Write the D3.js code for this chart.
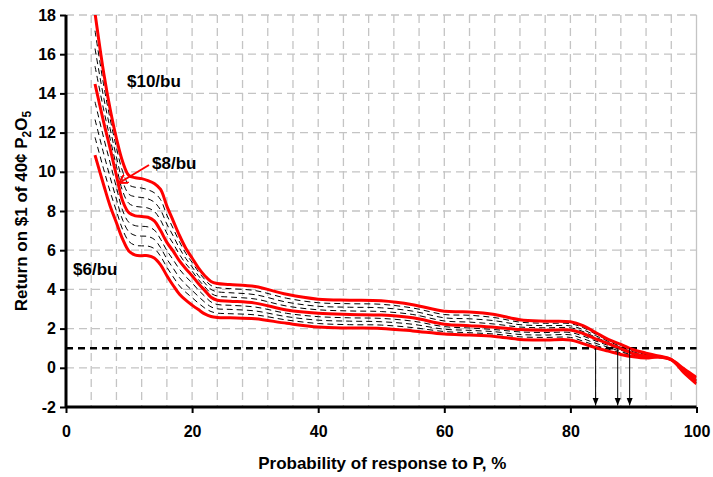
<!DOCTYPE html>
<html>
<head>
<meta charset="utf-8">
<script src="https://cdn.jsdelivr.net/npm/d3@7/dist/d3.min.js"></script>
<style>
  html, body { margin: 0; padding: 0; background: #fff; }
  svg { display: block; }
  text { font-family: "Liberation Sans", Arial, sans-serif; font-weight: bold; fill: #000; }
</style>
</head>
<body>
<svg id="chart" width="713" height="477"></svg>
<script>
// Probability of response to P (%) at which each curve is sampled
const probability = [4.6, 6, 7, 8, 9, 10, 11, 12, 13, 14, 15, 16, 17, 18, 19, 20, 21, 22, 23, 24, 26, 30, 35, 40, 45, 50, 55, 60, 64, 68, 72, 76, 80, 82, 84, 86, 88, 90, 92, 94, 96, 98, 100];

// Return on $1 of P2O5 at the labelled grain prices (red curves)
const return6 = [10.85, 9.3, 8.25, 7.4, 6.55, 5.95, 5.75, 5.72, 5.72, 5.6, 5.25, 4.7, 4.2, 3.75, 3.45, 3.2, 2.97, 2.75, 2.62, 2.57, 2.55, 2.5, 2.27, 2.08, 2.03, 2.01, 1.88, 1.72, 1.67, 1.6, 1.45, 1.42, 1.42, 1.23, 1.02, 0.85, 0.68, 0.56, 0.5, 0.55, 0.42, -0.05, -0.5];
const return8 = [14.48, 12.5, 11.19, 9.8, 8.5, 7.9, 7.75, 7.72, 7.68, 7.5, 7.0, 6.4, 5.95, 5.45, 5.05, 4.7, 4.3, 3.95, 3.6, 3.45, 3.4, 3.3, 2.95, 2.78, 2.72, 2.69, 2.55, 2.22, 2.15, 2.07, 1.95, 1.92, 1.93, 1.75, 1.48, 1.24, 0.98, 0.72, 0.6, 0.55, 0.4, -0.15, -0.68];
const return10 = [18.1, 15.0, 13.2, 11.7, 10.5, 9.8, 9.7, 9.65, 9.55, 9.4, 9.1, 8.25, 7.5, 6.75, 6.1, 5.6, 5.1, 4.7, 4.4, 4.3, 4.25, 4.15, 3.75, 3.5, 3.45, 3.42, 3.22, 2.88, 2.85, 2.72, 2.45, 2.38, 2.35, 2.15, 1.8, 1.45, 1.2, 0.92, 0.75, 0.6, 0.42, -0.25, -0.82];

// Intermediate grain prices (thin dashed curves)
const return6_5 = [11.76, 10.1, 8.99, 8.0, 7.04, 6.44, 6.25, 6.22, 6.21, 6.08, 5.69, 5.13, 4.64, 4.18, 3.85, 3.58, 3.3, 3.05, 2.87, 2.79, 2.76, 2.7, 2.44, 2.26, 2.2, 2.18, 2.05, 1.85, 1.79, 1.72, 1.58, 1.55, 1.55, 1.36, 1.14, 0.95, 0.76, 0.6, 0.53, 0.55, 0.42, -0.08, -0.55];
const return7 = [12.67, 10.9, 9.72, 8.6, 7.53, 6.93, 6.75, 6.72, 6.7, 6.55, 6.13, 5.55, 5.08, 4.6, 4.25, 3.95, 3.64, 3.35, 3.11, 3.01, 2.98, 2.9, 2.61, 2.43, 2.38, 2.35, 2.22, 1.97, 1.91, 1.84, 1.7, 1.67, 1.68, 1.49, 1.25, 1.05, 0.83, 0.64, 0.55, 0.55, 0.41, -0.1, -0.59];
const return7_5 = [13.57, 11.7, 10.46, 9.2, 8.01, 7.41, 7.25, 7.22, 7.19, 7.03, 6.56, 5.98, 5.51, 5.03, 4.65, 4.33, 3.97, 3.65, 3.36, 3.23, 3.19, 3.1, 2.78, 2.61, 2.55, 2.52, 2.38, 2.1, 2.03, 1.95, 1.83, 1.8, 1.8, 1.62, 1.37, 1.14, 0.91, 0.68, 0.58, 0.55, 0.41, -0.13, -0.64];
const return8_5 = [15.39, 13.13, 11.69, 10.28, 9.0, 8.38, 8.24, 8.2, 8.15, 7.98, 7.53, 6.86, 6.34, 5.78, 5.31, 4.93, 4.5, 4.14, 3.8, 3.66, 3.61, 3.51, 3.15, 2.96, 2.9, 2.87, 2.72, 2.39, 2.33, 2.23, 2.08, 2.04, 2.04, 1.85, 1.56, 1.29, 1.04, 0.77, 0.64, 0.56, 0.41, -0.18, -0.72];
const return9 = [16.29, 13.75, 12.2, 10.75, 9.5, 8.85, 8.73, 8.69, 8.62, 8.45, 8.05, 7.33, 6.73, 6.1, 5.58, 5.15, 4.7, 4.33, 4.0, 3.88, 3.83, 3.73, 3.35, 3.14, 3.09, 3.06, 2.89, 2.55, 2.5, 2.4, 2.2, 2.15, 2.14, 1.95, 1.64, 1.35, 1.09, 0.82, 0.68, 0.58, 0.41, -0.2, -0.75];
const return9_5 = [17.2, 14.38, 12.7, 11.23, 10.0, 9.33, 9.21, 9.17, 9.08, 8.93, 8.58, 7.79, 7.11, 6.43, 5.84, 5.38, 4.9, 4.51, 4.2, 4.09, 4.04, 3.94, 3.55, 3.32, 3.27, 3.24, 3.05, 2.72, 2.68, 2.56, 2.33, 2.27, 2.25, 2.05, 1.72, 1.4, 1.15, 0.87, 0.71, 0.59, 0.42, -0.23, -0.79];

const priceLabels = ["$6/bu", "$8/bu", "$10/bu"];

// Break-even return and the probabilities where each labelled price reaches it
const breakEven = 1;
const breakEvenProbability = [84, 87.5, 89.4];

// Axis ticks
const xTicks = [0, 20, 40, 60, 80, 100];
const yTicks = [-2, 0, 2, 4, 6, 8, 10, 12, 14, 16, 18];
const xGrid = d3.range(4, 100, 4);

const svg = d3.select("#chart");
const margin = { left: 66, top: 15, right: 16, bottom: 70 };
const W = 713, H = 477;

const x = d3.scaleLinear().domain([0, 100]).range([margin.left, W - margin.right - 0.5]);
const y = d3.scaleLinear().domain([-2, 18]).range([H - margin.bottom, margin.top]);

// Clip region for the curves
const defs = svg.append("defs");
defs.append("clipPath").attr("id", "plot-clip")
  .append("rect")
  .attr("x", x(0)).attr("y", y(18))
  .attr("width", x(100) - x(0)).attr("height", y(-2) - y(18));

// Gridlines
const grid = svg.append("g").attr("stroke", "#c4c4c4").attr("stroke-width", 1.3)
  .attr("stroke-dasharray", "8,5");
grid.selectAll("line.h").data(yTicks.filter(d => d > -2)).join("line")
  .attr("x1", x(0)).attr("x2", x(100))
  .attr("y1", d => y(d)).attr("y2", d => y(d));
grid.selectAll("line.v").data(xGrid).join("line")
  .attr("x1", d => x(d)).attr("x2", d => x(d))
  .attr("y1", y(18)).attr("y2", y(-2));
svg.append("line")
  .attr("x1", x(100)).attr("x2", x(100)).attr("y1", y(18)).attr("y2", y(-2))
  .attr("stroke", "#c4c4c4").attr("stroke-width", 1.3);

// Break-even line
svg.append("line")
  .attr("x1", x(0)).attr("x2", x(100))
  .attr("y1", y(breakEven)).attr("y2", y(breakEven))
  .attr("stroke", "#000").attr("stroke-width", 2.5).attr("stroke-dasharray", "7,5");

const line = d3.line()
  .x((d, i) => x(probability[i]))
  .y(d => y(d))
  .curve(d3.curveCatmullRom.alpha(0.5));

const curves = svg.append("g").attr("clip-path", "url(#plot-clip)");

// Intermediate prices
curves.selectAll("path.mid")
  .data([return6_5, return7, return7_5, return8_5, return9, return9_5])
  .join("path")
  .attr("fill", "none").attr("stroke", "#000").attr("stroke-width", 1)
  .attr("stroke-dasharray", "6,4")
  .attr("d", line);

// Labelled prices
curves.selectAll("path.price")
  .data([return6, return8, return10])
  .join("path")
  .attr("fill", "none").attr("stroke", "#ff0000").attr("stroke-width", 3)
  .attr("stroke-linejoin", "round")
  .attr("d", line);

// Arrows down to the probability axis
defs.append("marker").attr("id", "arrow-down")
  .attr("viewBox", "0 0 10 10").attr("refX", 10).attr("refY", 5)
  .attr("markerWidth", 8).attr("markerHeight", 8)
  .attr("markerUnits", "userSpaceOnUse")
  .attr("orient", "auto")
  .append("path").attr("d", "M0,1 L10,5 L0,9 Z").attr("fill", "#000");

svg.selectAll("line.drop").data(breakEvenProbability).join("line")
  .attr("x1", d => x(d)).attr("x2", d => x(d))
  .attr("y1", y(breakEven)).attr("y2", y(-2) - 1.5)
  .attr("stroke", "#000").attr("stroke-width", 1)
  .attr("marker-end", "url(#arrow-down)");

// Price labels
const labelPos = [
  { x: 73, y: 269 },
  { x: 152, y: 163 },
  { x: 127, y: 81 }
];
svg.selectAll("text.price").data(priceLabels).join("text")
  .attr("x", (d, i) => labelPos[i].x)
  .attr("y", (d, i) => labelPos[i].y)
  .attr("dy", "0.36em")
  .attr("font-size", 17)
  .text(d => d);

// Pointer from the $8/bu label to its curve
defs.append("marker").attr("id", "arrow-open")
  .attr("viewBox", "0 0 10 10").attr("refX", 9).attr("refY", 5)
  .attr("markerWidth", 10).attr("markerHeight", 10)
  .attr("markerUnits", "userSpaceOnUse")
  .attr("orient", "auto")
  .append("path").attr("d", "M0,0 L9,5 L0,10").attr("fill", "none")
  .attr("stroke", "#ff0000").attr("stroke-width", 2);
svg.append("line")
  .attr("x1", 149).attr("y1", 165)
  .attr("x2", 119).attr("y2", 183)
  .attr("stroke", "#ff0000").attr("stroke-width", 2)
  .attr("marker-end", "url(#arrow-open)");

// Axes
const fmt = d => String(d);
const xAxis = svg.append("g").attr("transform", `translate(0,${y(-2)})`)
  .call(d3.axisBottom(x).tickValues(xTicks).tickSize(6).tickPadding(13).tickFormat(fmt));
const yAxis = svg.append("g").attr("transform", `translate(${x(0)},0)`)
  .call(d3.axisLeft(y).tickValues(yTicks).tickSize(6).tickPadding(4).tickFormat(fmt));

[xAxis, yAxis].forEach(g => {
  g.select(".domain").attr("stroke", "#000").attr("stroke-width", 3);
  g.selectAll(".tick line").attr("stroke", "#000").attr("stroke-width", 2);
  g.selectAll(".tick text").attr("font-size", 16)
    .attr("font-family", "'Liberation Sans', Arial, sans-serif")
    .attr("font-weight", "bold").attr("fill", "#000");
});
xAxis.select(".domain").attr("d", `M${x(0)},0H${x(100)}`);
yAxis.select(".domain").attr("d", `M0,${y(18)}V${y(-2)}`);

// Axis titles
svg.append("text")
  .attr("x", (x(0) + x(100)) / 2 + 1).attr("y", 469)
  .attr("text-anchor", "middle").attr("font-size", 17)
  .text("Probability of response to P, %");

const yTitle = svg.append("text")
  .attr("transform", `translate(27,${(y(18) + y(-2)) / 2}) rotate(-90)`)
  .attr("text-anchor", "middle").attr("font-size", 17);
yTitle.append("tspan").text("Return on $1 of 40¢ P");
yTitle.append("tspan").attr("font-size", 12).attr("dy", 4).text("2");
yTitle.append("tspan").attr("dy", -4).text("O");
yTitle.append("tspan").attr("font-size", 12).attr("dy", 4).text("5");
</script>
</body>
</html>
